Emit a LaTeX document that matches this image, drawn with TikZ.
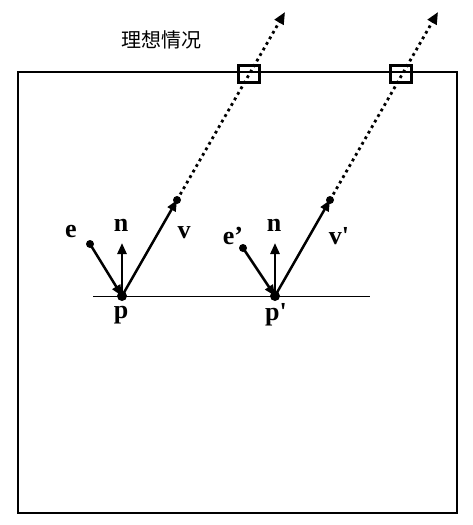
\documentclass[tikz,border=0pt]{standalone}
\usepackage{fontspec}
\setmainfont{Liberation Serif}
\newfontfamily\lblfont[Ligatures=TeXOff]{Liberation Serif}
\newfontfamily\cjk{Noto Sans CJK SC}
\usetikzlibrary{arrows.meta}

\tikzset{
  vec/.style={line width=2.5pt, -{Triangle[length=11pt,width=9pt]}},
  ray/.style={line width=2.8pt, dash pattern=on 2.8pt off 3.6pt, -{Triangle[length=12pt,width=10pt]}},
  lbl/.style={inner sep=0pt, font=\lblfont\fontsize{26}{26}\selectfont\bfseries},
  win/.style={draw, line width=2.5pt, minimum width=21pt, minimum height=17pt, inner sep=0pt},
}

\begin{document}
\begin{tikzpicture}[x=1pt, y=-1pt]

\useasboundingbox (0,0) rectangle (472,525);

% frame and title
\draw[line width=2.5pt] (18,72) rectangle (457,513);
\node[inner sep=0pt, font=\cjk\fontsize{20}{20}\selectfont] (title) at (161,40) {理想情况};

% surface
\coordinate (sl) at (93,296);
\coordinate (sr) at (370,296);
\draw[line width=1pt] (sl) -- (sr);

% first point p
\coordinate (p) at (122,296);
\coordinate (e) at (90,244);
\coordinate (n) at (122,243);
\coordinate (v) at (177,200);
\coordinate (vend) at (285,12);
\draw[vec] (e) -- (p);
\draw[vec] (p) -- (n);
\draw[vec] (p) -- (v);
\draw[ray] (v) -- (vend);
\fill (p) circle (5pt);
\fill (e) circle (4pt);
\fill (v) circle (4pt);
\node[win] (wa) at (249,74) {};
\node[lbl] (pl) at (121,315) {p};
\node[lbl] (el) at (71,232) {e};
\node[lbl] (nl) at (121,225) {n};
\node[lbl] (vl) at (184,233) {v};

% second point p'
\coordinate (q) at (275,296);
\coordinate (eq) at (243,248);
\coordinate (nq) at (275,243);
\coordinate (vq) at (330,200);
\coordinate (vqend) at (438,12);
\draw[vec] (eq) -- (q);
\draw[vec] (q) -- (nq);
\draw[vec] (q) -- (vq);
\draw[ray] (vq) -- (vqend);
\fill (q) circle (5pt);
\fill (eq) circle (4pt);
\fill (vq) circle (4pt);
\node[win] (wb) at (401,74) {};
\node[lbl] (ql) at (276,315) {p'};
\node[lbl] (eql) at (233,236) {e’};
\node[lbl] (nql) at (274,225) {n};
\node[lbl] (vql) at (339,236) {v'};

\end{tikzpicture}
\end{document}
